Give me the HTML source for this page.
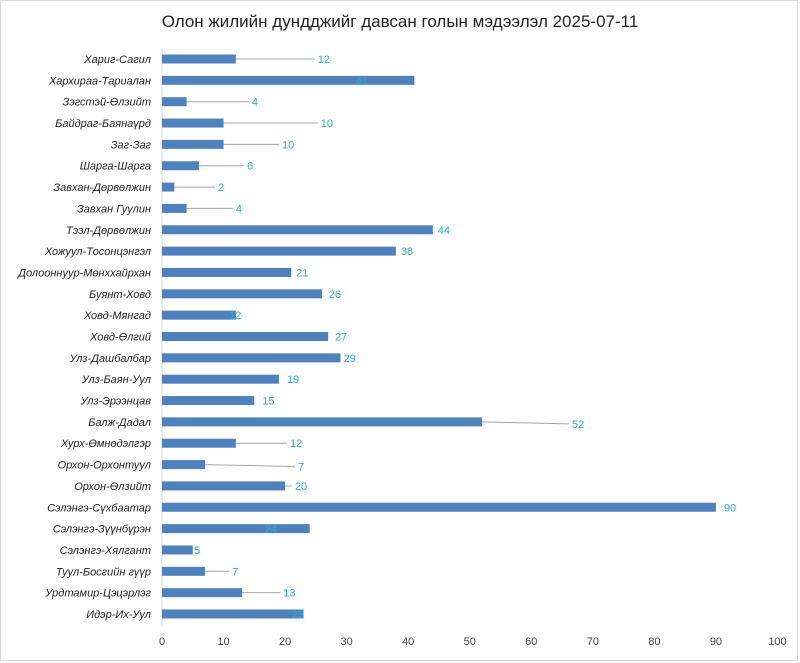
<!DOCTYPE html>
<html><head><meta charset="utf-8"><style>
body{margin:0;background:#fff}
svg{display:block;font-family:"Liberation Sans",sans-serif}
</style></head><body>
<svg width="800" height="663">
<rect x="0.5" y="0.5" width="797" height="660" fill="#fff" stroke="#d9d9d9"/>
<text x="400" y="27" text-anchor="middle" font-size="17" fill="#222">Олон жилийн дундджийг давсан голын мэдээлэл 2025-07-11</text>
<g id="plot"></g>
</svg>
<script>
const categories=["Хариг-Сагил","Хархираа-Тариалан","Зэгстэй-Өлзийт","Байдраг-Баянаүрд","Заг-Заг","Шарга-Шарга","Завхан-Дөрвөлжин","Завхан Гуулин","Тээл-Дөрвөлжин","Хожуул-Тосонцэнгэл","Долооннуур-Мөнххайрхан","Буянт-Ховд","Ховд-Мянгад","Ховд-Өлгий","Улз-Дашбалбар","Улз-Баян-Уул","Улз-Эрээнцав","Балж-Дадал","Хурх-Өмнөдэлгэр","Орхон-Орхонтуул","Орхон-Өлзийт","Сэлэнгэ-Сүхбаатар","Сэлэнгэ-Зүүнбүрэн","Сэлэнгэ-Хялгант","Туул-Босгийн гүүр","Урдтамир-Цэцэрлэг","Идэр-Их-Уул"];
const values=[12,41,4,10,10,6,2,4,44,38,21,26,12,27,29,19,15,52,12,7,20,90,24,5,7,13,23];
const labelAt=[25.3,31.5,14.6,25.8,19.5,13.8,9.1,12,44.8,38.8,21.8,27.1,10.9,28.1,29.5,20.3,16.3,66.6,20.8,22.1,21.6,91.3,16.7,5.2,11.4,19.7,21.1];
const leader=[1,0,1,1,1,1,1,1,0,0,0,0,0,0,0,0,0,1,1,1,1,0,0,0,1,1,0];
const ticks=[0,10,20,30,40,50,60,70,80,90,100];
const NS="http://www.w3.org/2000/svg";
const g=document.getElementById('plot');
const x=v=>162+v*6.155;
const y=i=>59+i*(555/ (categories.length-1));
function mk(t,a,p){const e=document.createElementNS(NS,t);for(const k in a)e.setAttribute(k,a[k]);(p||g).appendChild(e);return e;}
const ax=mk('line',{x1:162,x2:162,y1:48,y2:625,stroke:'#d9d9d9'});


ticks.forEach(t=>{const e=mk('text',{x:x(t),y:645,'text-anchor':'middle','font-size':11,fill:'#444'});e.textContent=t;

});
categories.forEach((c,i)=>{
const cy=y(i);
const l=mk('text',{x:151,y:cy+4,'text-anchor':'end','font-size':11,'font-style':'italic',fill:'#222'});l.textContent=c;


const b=mk('rect',{x:162,y:cy-4.5,width:x(values[i])-162,height:9,fill:'#4f81bd'});


const lx=x(labelAt[i]);
if(leader[i]){const ln=mk('line',{x1:x(values[i]),y1:cy,x2:lx-3,y2:cy+(i==17||i==19?2:0),stroke:'#a6a6a6'});

}
const v=mk('text',{x:lx,y:cy+4+(i==17||i==19?2:0),'font-size':11,fill:'#31a9cc'});v.textContent=values[i];


});
</script>
</body></html>
